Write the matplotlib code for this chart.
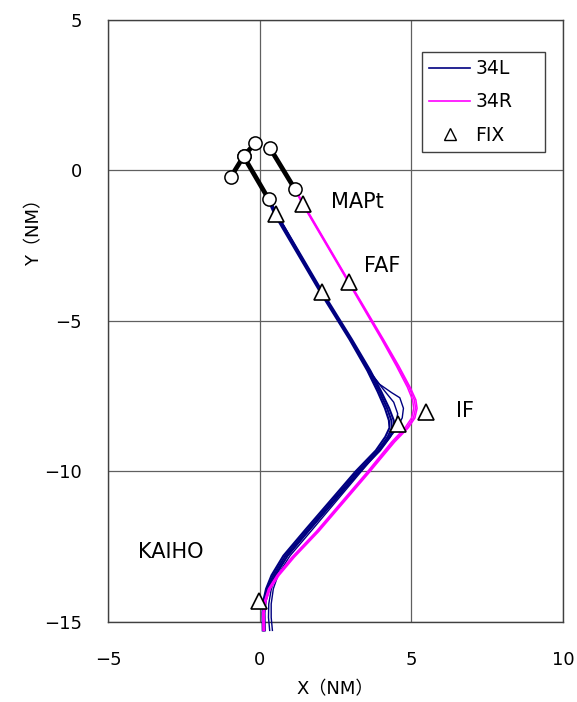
import matplotlib
matplotlib.use("Agg")
import matplotlib.pyplot as plt
from matplotlib.lines import Line2D

FONT = ["DejaVu Sans", "Noto Sans CJK JP"]
plt.rcParams["font.family"] = FONT

NAVY = "#000080"
MAGENTA = "#FF00FF"

# 34L tracks (NM)
l_y = [-0.96, -1.46, -4.05, -5.61, -6.65, -7.35, -7.90, -8.30, -8.55, -8.85,
       -9.30, -10.00, -11.93, -12.80, -13.45, -13.90, -14.30, -14.70, -15.28]
l1_x = [0.30, 0.53, 2.04, 3.00, 3.60, 3.95, 4.20, 4.34, 4.36, 4.22,
        3.90, 3.23, 1.58, 0.85, 0.45, 0.26, 0.16, 0.12, 0.13]
l2_x = [0.27, 0.49, 2.00, 2.96, 3.55, 3.89, 4.13, 4.26, 4.28, 4.14,
        3.83, 3.16, 1.51, 0.78, 0.39, 0.21, 0.12, 0.09, 0.10]
l3_x = [0.33, 0.57, 2.08, 3.04, 3.65, 4.01, 4.27, 4.42, 4.44, 4.30,
        3.97, 3.30, 1.65, 0.92, 0.51, 0.31, 0.20, 0.16, 0.17]
l4_x = [0.30, 2.04, 3.00, 3.50, 3.95, 4.35, 4.62, 4.74, 4.70, 4.50,
        4.15, 3.35, 1.72, 1.00, 0.62, 0.45, 0.38, 0.38, 0.42]
l4_y = [-0.96, -4.05, -5.61, -6.50, -7.10, -7.38, -7.55, -7.90, -8.22, -8.60,
        -9.05, -10.00, -11.95, -12.80, -13.40, -13.90, -14.40, -14.85, -15.28]
l5_x = [0.30, 2.04, 3.00, 3.62, 4.10, 4.42, 4.55, 4.48, 4.20, 3.30,
        1.64, 0.92, 0.55, 0.38, 0.30, 0.29, 0.33]
l5_y = [-0.96, -4.05, -5.61, -6.68, -7.30, -7.70, -8.08, -8.50, -8.95, -10.00,
        -11.93, -12.80, -13.42, -13.92, -14.40, -14.85, -15.28]

# 34R tracks (NM)
r_y = [-0.60, -1.10, -3.69, -5.61, -6.50, -7.20, -7.62, -7.90, -8.22, -8.55,
       -9.02, -10.00, -11.99, -12.85, -13.45, -13.90, -14.30, -14.70, -15.28]
r1_x = [1.15, 1.42, 2.93, 4.05, 4.55, 4.92, 5.10, 5.14, 5.07, 4.85,
        4.40, 3.60, 1.91, 1.10, 0.60, 0.32, 0.18, 0.12, 0.13]
r2_x = [1.15, 1.40, 2.91, 4.02, 4.51, 4.87, 5.04, 5.08, 5.01, 4.79,
        4.35, 3.56, 1.87, 1.06, 0.57, 0.29, 0.16, 0.10, 0.11]
r3_x = [1.17, 1.44, 2.95, 4.08, 4.59, 4.96, 5.15, 5.19, 5.12, 4.90,
        4.45, 3.64, 1.95, 1.14, 0.64, 0.35, 0.21, 0.15, 0.16]

# connecting segments with end circles
seg_a_x = [-0.96, -0.53, -0.16]
seg_a_y = [-0.23, 0.47, 0.90]
seg_b_x = [-0.53, 0.30]
seg_b_y = [0.47, -0.96]
seg_c_x = [0.33, 1.15]
seg_c_y = [0.76, -0.60]

# fixes
fix_x = [1.42, 0.53, 2.93, 2.04, 5.47, 4.55, -0.03]
fix_y = [-1.10, -1.46, -3.69, -4.05, -8.04, -8.41, -14.29]

fix_names = ["MAPt", "FAF", "IF", "KAIHO"]
name_x = [2.34, 3.43, 6.46, -4.02]
name_y = [-1.06, -3.16, -8.00, -12.66]

fig = plt.figure(figsize=(5.77, 7.02), dpi=100)
ax = fig.add_axes([0.1872, 0.1140, 0.7885, 0.8575])

ax.set_xlim(-5, 10)
ax.set_ylim(-15, 5)
ax.set_xticks([-5, 0, 5, 10])
ax.set_yticks([-15, -10, -5, 0, 5])
ax.grid(True, color="#606060", linewidth=0.9)
ax.set_axisbelow(True)
for sp in ax.spines.values():
    sp.set_color("#404040")
    sp.set_linewidth(1.0)
ax.tick_params(length=0, labelsize=13)
ax.tick_params(axis="x", pad=21)
ax.tick_params(axis="y", pad=19)

for xs, ys in [(l1_x, l_y), (l2_x, l_y), (l3_x, l_y)]:
    ax.plot(xs, ys, color=NAVY, linewidth=1.5, clip_on=False, zorder=3)
for xs, ys in [(l4_x, l4_y), (l5_x, l5_y)]:
    ax.plot(xs, ys, color=NAVY, linewidth=1.0, clip_on=False, zorder=3)
for xs in [r1_x, r2_x, r3_x]:
    ax.plot(xs, r_y, color=MAGENTA, linewidth=1.1, clip_on=False, zorder=3)

for xs, ys in [(seg_a_x, seg_a_y), (seg_b_x, seg_b_y), (seg_c_x, seg_c_y)]:
    ax.plot(xs, ys, color="black", linewidth=3.4, solid_capstyle="butt", zorder=4)
    ax.plot(xs, ys, linestyle="none", marker="o", markersize=9.5,
            markerfacecolor="white", markeredgecolor="black",
            markeredgewidth=1.1, zorder=5)

ax.plot(fix_x, fix_y, linestyle="none", marker="^", markersize=12,
        markerfacecolor="white", markeredgecolor="black",
        markeredgewidth=1.2, zorder=6)

for name, tx, ty in zip(fix_names, name_x, name_y):
    ax.text(tx, ty, name, fontsize=15, ha="left", va="center", zorder=7)

ax.set_xlabel("X（NM）", fontsize=13, family=FONT)
ax.set_ylabel("Y（NM）", fontsize=13, family=FONT)
ax.xaxis.set_label_coords(0.5, -0.097)
ax.yaxis.set_label_coords(-0.142, 0.655)

handles = [
    Line2D([], [], color=NAVY, linewidth=1.2),
    Line2D([], [], color=MAGENTA, linewidth=1.2),
    Line2D([], [], linestyle="none", marker="^", markersize=8,
           markerfacecolor="white", markeredgecolor="black", markeredgewidth=1.0),
]
leg = ax.legend(handles, ["34L", "34R", "FIX"], loc="upper left",
                bbox_to_anchor=(0.690, 0.947, 0.270, 0.0), mode="expand",
                fontsize=13.5, frameon=True, fancybox=False,
                edgecolor="#404040", framealpha=1,
                handlelength=2.15, handletextpad=0.3, labelspacing=0.75,
                borderpad=0.4, borderaxespad=0)
leg.get_frame().set_linewidth(1.0)

fig.savefig("out.png", dpi=100)
